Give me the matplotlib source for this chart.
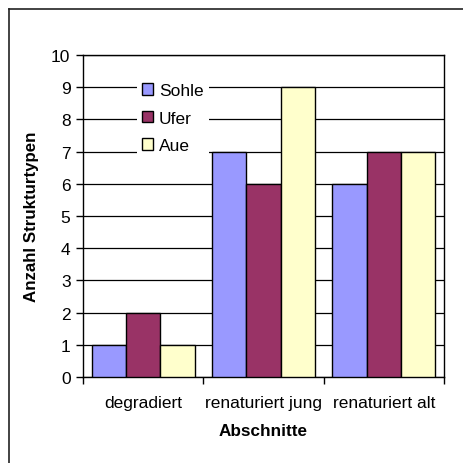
import matplotlib
matplotlib.use("Agg")
import matplotlib.pyplot as plt
from matplotlib.lines import Line2D
import numpy as np

plt.rcParams['font.family'] = ['Liberation Sans', 'DejaVu Sans']

categories = ["degradiert", "renaturiert jung", "renaturiert alt"]
series_names = ["Sohle", "Ufer", "Aue"]
sohle = [1, 7, 6]
ufer = [2, 6, 7]
aue = [1, 9, 7]
colors = ["#9999FF", "#993366", "#FFFFCC"]
y_ticks = list(range(0, 11))

W = H = 464
fig = plt.figure(figsize=(W / 100, H / 100), dpi=100)
ax = fig.add_axes([83 / W, 1 - 378 / H, (444 - 83) / W, (378 - 56) / H])

x = np.arange(len(categories))
bw = 1 / 3.5
for i, (vals, name, col) in enumerate(zip([sohle, ufer, aue], series_names, colors)):
    ax.bar(x + (i - 1) * bw, vals, width=bw, color=col, edgecolor="black",
           linewidth=1.0, label=name, zorder=3)

ax.set_xlim(-0.5, len(categories) - 0.5)
ax.set_ylim(0, 10)
ax.set_yticks(y_ticks)
ax.set_yticklabels([str(t) for t in y_ticks], fontsize=12.5)
ax.yaxis.grid(True, color="black", linewidth=0.9, zorder=0)
ax.set_axisbelow(True)

# category labels centred, tick marks on the boundaries between categories
ax.set_xticks(np.arange(-0.5, len(categories), 1.0))
ax.set_xticklabels([])
ax.set_xticks(x, minor=True)
ax.set_xticklabels(categories, minor=True, fontsize=12.5)
ax.tick_params(axis="x", which="minor", length=0, pad=13)
ax.tick_params(axis="x", which="major", length=5, direction="out", width=1)
ax.tick_params(axis="y", length=5, direction="out", width=1, pad=4)

for s in ax.spines.values():
    s.set_linewidth(1.0)
    s.set_color("black")

ax.set_ylabel("Anzahl Strukturtypen", fontsize=12.2, fontweight="bold", labelpad=9)
ax.set_xlabel("Abschnitte", fontsize=12.3, fontweight="bold", labelpad=9)

leg = ax.legend(loc="upper left", bbox_to_anchor=(137 / W, 1 - 79 / H),
                bbox_transform=fig.transFigure, fontsize=12.5, frameon=True,
                fancybox=False, framealpha=1, edgecolor="white",
                handlelength=0.65, handleheight=0.65, handletextpad=0.3,
                labelspacing=0.72, borderpad=0.3, borderaxespad=0)
leg.get_frame().set_linewidth(0)
leg.set_zorder(5)

# outer chart border
fig.add_artist(Line2D([9.5 / W, 9.5 / W], [0, 1 - 10 / H], color="#222222",
                      linewidth=1.2, transform=fig.transFigure))
fig.add_artist(Line2D([9.5 / W, 1], [1 - 10 / H, 1 - 10 / H], color="#222222",
                      linewidth=1.2, transform=fig.transFigure))

fig.savefig("out.png", dpi=100)
